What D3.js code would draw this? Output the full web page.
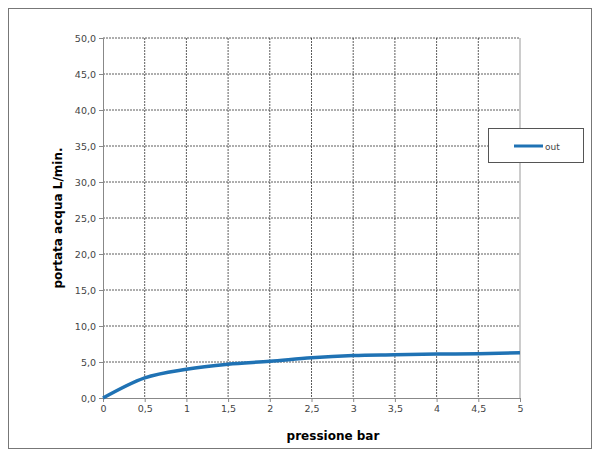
<!DOCTYPE html><html><head><meta charset="utf-8"><script src="https://cdn.jsdelivr.net/npm/d3@7"></script>
<style>body{margin:0;background:#fff}</style></head><body><svg id="c" width="600" height="456"></svg><script>
const xs=[0,0.5,1,1.5,2,2.5,3,3.5,4,4.5,5];
const ys=[0,2.8,4.0,4.7,5.1,5.6,5.9,6.0,6.1,6.15,6.3];
const xTicks=[0,0.5,1,1.5,2,2.5,3,3.5,4,4.5,5];
const yTicks=[0,5,10,15,20,25,30,35,40,45,50];
const svg=d3.select("#c");
svg.append("rect").attr("x",8.5).attr("y",8.5).attr("width",583).attr("height",440).attr("fill","#fff").attr("stroke","#777");
const x=d3.scaleLinear().domain([0,5]).range([103,520]);
const y=d3.scaleLinear().domain([0,50]).range([398,38]);
const fmt=v=>String(v).replace(".",",");
svg.append("g").selectAll("line").data(xTicks.slice(1,-1)).join("line").attr("x1",x).attr("x2",x).attr("y1",38).attr("y2",398).attr("stroke","#333").attr("stroke-dasharray","2,1").attr("stroke-width",0.8);
svg.append("g").selectAll("line").data(yTicks.slice(1)).join("line").attr("y1",y).attr("y2",y).attr("x1",103).attr("x2",520).attr("stroke","#333").attr("stroke-dasharray","2,1").attr("stroke-width",0.8);
svg.append("line").attr("x1",520).attr("x2",520).attr("y1",38).attr("y2",398).attr("stroke","#999");
const ax=svg.append("g").attr("transform","translate(0,398)").call(d3.axisBottom(x).tickValues(xTicks).tickFormat(fmt).tickSize(4));
const ay=svg.append("g").attr("transform","translate(103,0)").call(d3.axisLeft(y).tickValues(yTicks).tickFormat(d=>d3.format(".1f")(d).replace(".",",")).tickSize(4));
[ax,ay].forEach(g=>{g.selectAll("path,line").attr("stroke","#888");g.selectAll("text").attr("font-family","DejaVu Sans").attr("font-size",9.5).attr("fill","#444");});
svg.append("path").datum(xs.map((d,i)=>[d,ys[i]])).attr("d",d3.line().x(d=>x(d[0])).y(d=>y(d[1])).curve(d3.curveMonotoneX)).attr("fill","none").attr("stroke","#1f72b4").attr("stroke-width",3.5);
svg.append("text").attr("x",333).attr("y",440).attr("text-anchor","middle").attr("font-family","DejaVu Sans").attr("font-weight","bold").attr("font-size",12).text("pressione bar");
svg.append("text").attr("transform","translate(62,218) rotate(-90)").attr("text-anchor","middle").attr("font-family","DejaVu Sans").attr("font-weight","bold").attr("font-size",12).text("portata acqua L/min.");
svg.append("rect").attr("x",488.5).attr("y",128.5).attr("width",95).attr("height",34).attr("fill","#fff").attr("stroke","#555");
svg.append("line").attr("x1",514).attr("x2",543).attr("y1",146).attr("y2",146).attr("stroke","#1f72b4").attr("stroke-width",3);
svg.append("text").attr("x",545).attr("y",149.5).attr("font-family","DejaVu Sans").attr("font-size",9).attr("fill","#444").text("out");
</script></body></html>
